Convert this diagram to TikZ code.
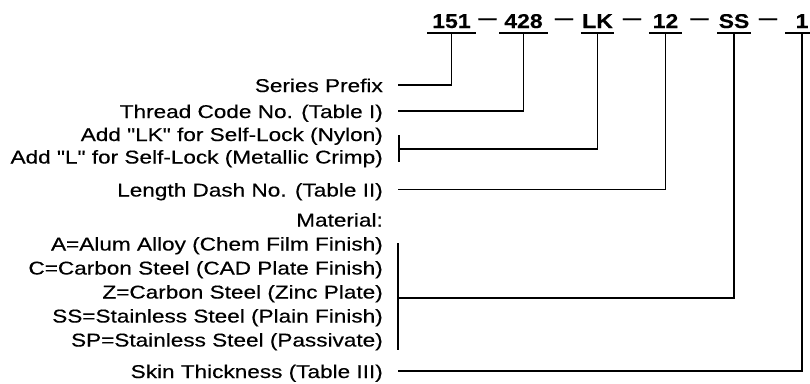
\documentclass[tikz,border=0pt]{standalone}
\usepackage{fontspec}
\setmainfont{Liberation Sans}
\newfontfamily\lblfont[FakeStretch=1.22,FakeBold=0.4]{Liberation Sans}
\newfontfamily\codefont[FakeStretch=1.15,FakeBold=0.3]{Liberation Sans}
\tikzset{
  code/.style={font=\codefont\bfseries\fontsize{20}{20}\selectfont,anchor=base,inner xsep=0pt,inner ysep=5pt,text depth=0pt,minimum width=33pt},
  hyph/.style={font=\codefont\bfseries\fontsize{16}{16}\selectfont,inner sep=0pt},
  lbl/.style={font=\lblfont\fontsize{18.5}{22}\selectfont,anchor=base east,inner sep=0pt},
  ul/.style={line width=2pt},
  ln/.style={line width=1.7pt}
}

\begin{document}
\begin{tikzpicture}[x=1pt,y=-1pt]
\useasboundingbox (0,0) rectangle (810,383);
% part number
\node[code,minimum width=48pt] (c151) at (451.5,28) {151};
\node[hyph] (h1) at (487.5,21) {—};
\node[code,minimum width=48pt] (c428) at (523.5,28) {428};
\node[hyph] (h2) at (564,21) {—};
\node[code] (cLK) at (597.5,28) {LK};
\node[hyph] (h3) at (632,21) {—};
\node[code] (c12) at (665.5,28) {12};
\node[hyph] (h4) at (699.5,21) {—};
\node[code] (cSS) at (734,28) {SS};
\node[hyph] (h5) at (768,21) {—};
\node[code] (c1) at (802,28) {1};
\draw[ul] (c151.south west) -- (c151.south east);
\draw[ul] (c428.south west) -- (c428.south east);
\draw[ul] (cLK.south west) -- (cLK.south east);
\draw[ul] (c12.south west) -- (c12.south east);
\draw[ul] (cSS.south west) -- (cSS.south east);
\draw[ul] (c1.south west) -- (c1.south east);
% labels
\node[lbl] (series) at (383,92) {Series Prefix};
\node[lbl] (thread) at (383,118) {Thread Code No. (Table I)};
\node[lbl] (lkny) at (383,141) {Add "LK" for Self-Lock (Nylon)};
\node[lbl] (lmet) at (383,163.5) {Add "L" for Self-Lock (Metallic Crimp)};
\node[lbl] (length) at (383,196.5) {Length Dash No. (Table II)};
\node[lbl] (mat) at (383,226.5) {Material:};
\node[lbl] (matA) at (383,250.5) {A=Alum Alloy (Chem Film Finish)};
\node[lbl] (matC) at (383,274.5) {C=Carbon Steel (CAD Plate Finish)};
\node[lbl] (matZ) at (383,298.5) {Z=Carbon Steel (Zinc Plate)};
\node[lbl] (matSS) at (383,322.5) {SS=Stainless Steel (Plain Finish)};
\node[lbl] (matSP) at (383,346.5) {SP=Stainless Steel (Passivate)};
\node[lbl] (skin) at (383,378) {Skin Thickness (Table III)};
% leaders
\draw[ln] ([xshift=15pt,yshift=7pt]series.base east) -| (c151.south);
\draw[ln] ([xshift=15pt,yshift=7pt]thread.base east) -| (c428.south);
\coordinate (lkj) at (399,149);
\draw[ln] (399,135) -- (399,162);
\draw[ln] (lkj) -| (cLK.south);
\draw[ln] ([xshift=15pt,yshift=7pt]length.base east) -| (c12.south);
\coordinate (matj) at (398,298);
\draw[ln] (398,243) -- (398,350);
\draw[ln] (matj) -| (cSS.south);
\draw[ln] ([xshift=15pt,yshift=7pt]skin.base east) -| (c1.south);
\end{tikzpicture}
\end{document}
